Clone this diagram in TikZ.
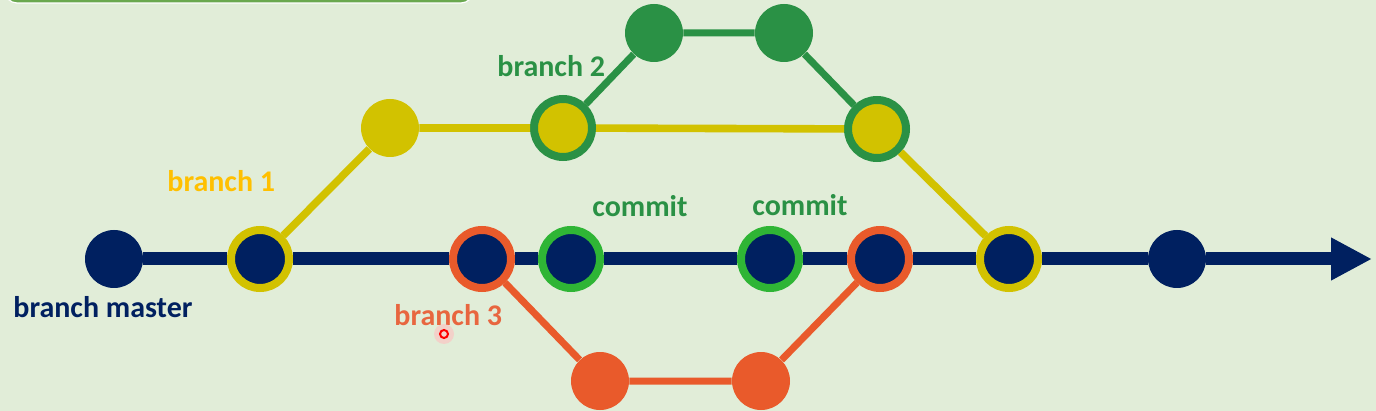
\documentclass[tikz,border=0pt]{standalone}
\usepackage{fontspec}
\setmainfont{Carlito}
\usepackage{xcolor}
\usetikzlibrary{arrows.meta}

\definecolor{bgcol}{HTML}{E1EDD8}
\definecolor{navy}{HTML}{002060}
\definecolor{olive}{HTML}{D2C200}
\definecolor{gold}{HTML}{FFC000}
\definecolor{dkgreen}{HTML}{2A9145}
\definecolor{ltgreen}{HTML}{2FB535}
\definecolor{orng}{HTML}{E95A2B}
\definecolor{orlabel}{HTML}{E8663F}
\definecolor{boxgreen}{HTML}{6AA84F}

\tikzset{
    commit/.style={circle, inner sep=0pt, minimum size=29pt, fill=#1},
    ringed/.style 2 args={commit=#1, draw=#2, line width=4pt},
    lbl/.style={anchor=base west, inner sep=0pt, text=#1,
        font=\fontsize{15pt}{18pt}\selectfont\bfseries},
}

\begin{document}
\begin{tikzpicture}[x=0.5pt, y=-0.5pt]
            \useasboundingbox (0,0) rectangle (1376,411);
            \fill[bgcol] (0,0) rectangle (1376,411);
            \fill[boxgreen, rounded corners=6pt, draw=white, line width=0.6pt] (5,-40) rectangle (473,3);

            % master
            \node[commit=navy] (m0) at (114, 259) {};
            \node[ringed={navy}{olive}] (m1) at (260, 259) {};
            \node[ringed={navy}{orng}] (m2) at (482, 259) {};
            \node[ringed={navy}{ltgreen}] (m3) at (571, 259) {};
            \node[ringed={navy}{ltgreen}] (m4) at (770, 259) {};
            \node[ringed={navy}{orng}] (m5) at (880, 259) {};
            \node[ringed={navy}{olive}] (m6) at (1009, 259) {};
            \node[commit=navy] (m7) at (1177, 259) {};
            \coordinate (tip) at (1372, 259);

            % branch 1
            \node[commit=olive] (y1) at (390, 128) {};
            \node[ringed={olive}{dkgreen}] (y2) at (563, 128) {};
            \node[ringed={olive}{dkgreen}] (y3) at (877, 129) {};

            % branch 2
            \node[commit=dkgreen] (g1) at (654, 33) {};
            \node[commit=dkgreen] (g2) at (784, 33) {};

            % branch 3
            \node[commit=orng] (r1) at (600, 381) {};
            \node[commit=orng] (r2) at (761, 381) {};

            \draw[navy, line width=6.5pt, -{Triangle[length=20.5pt, width=20pt]}]
                (m0) -- (m1) -- (m2) -- (m3) -- (m4) -- (m5) -- (m6) -- (m7) -- (tip);
            \draw[olive, line width=3.8pt] (m1) -- (y1) -- (y2) -- (y3) -- (m6);
            \draw[dkgreen, line width=3.5pt] (y2) -- (g1) -- (g2) -- (y3);
            \draw[orng, line width=3.5pt] (m2) -- (r1) -- (r2) -- (m5);

            \node[lbl=navy] (lm) at (13, 317) {branch master};
            \node[lbl=gold] (l1) at (167, 192) {branch 1};
            \node[lbl=dkgreen] (l2) at (497, 77) {branch 2};
            \node[lbl=orlabel] (l3) at (394, 326) {branch 3};
            \node[lbl=dkgreen] (c1) at (592, 217) {commit};
            \node[lbl=dkgreen] (c2) at (752, 216) {commit};

            % pointer
            \fill[red!25, opacity=0.6] (444, 334) circle (5pt);
            \draw[red, line width=1pt] (444, 334) circle (2pt);
        \end{tikzpicture}
\end{document}
